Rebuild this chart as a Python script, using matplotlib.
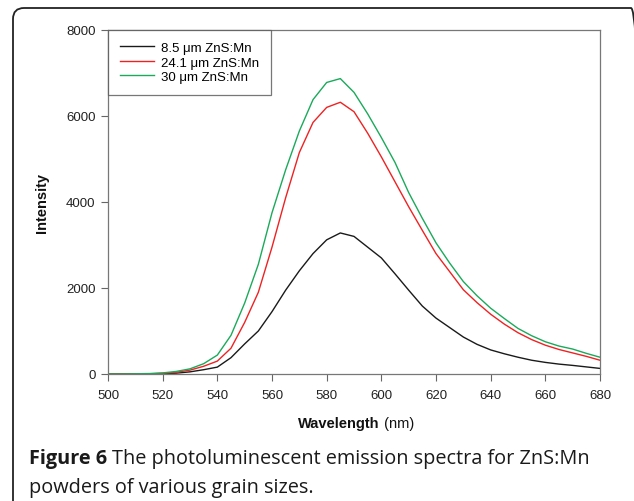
import matplotlib
matplotlib.use("Agg")
import matplotlib.pyplot as plt
from matplotlib.patches import FancyBboxPatch
from matplotlib.transforms import IdentityTransform

wavelength = [500, 505, 510, 515, 520, 525, 530, 535, 540, 545, 550, 555, 560, 565, 570,
              575, 580, 585, 590, 595, 600, 605, 610, 615, 620, 625, 630, 635, 640, 645,
              650, 655, 660, 665, 670, 675, 680]
i_85 = [0, 0, 0, 5, 10, 20, 50, 100, 160, 380, 700, 1000, 1450, 1950, 2400,
        2800, 3120, 3280, 3200, 2950, 2700, 2330, 1950, 1580, 1300, 1080, 860, 690, 560, 470,
        390, 320, 270, 230, 200, 165, 130]
i_241 = [0, 0, 3, 5, 15, 40, 90, 180, 300, 600, 1200, 1900, 2950, 4100, 5150,
         5850, 6200, 6320, 6100, 5600, 5050, 4470, 3890, 3340, 2800, 2380, 1960, 1660, 1390, 1160,
         960, 800, 670, 570, 490, 410, 320]
i_30 = [0, 0, 5, 10, 25, 60, 120, 240, 440, 900, 1650, 2550, 3750, 4750, 5650,
        6380, 6780, 6870, 6550, 6050, 5500, 4920, 4220, 3620, 3050, 2580, 2150, 1820, 1530, 1290,
        1060, 890, 750, 650, 580, 480, 390]
labels = ["8.5 \u03bcm ZnS:Mn", "24.1 \u03bcm ZnS:Mn", "30 \u03bcm ZnS:Mn"]
colors = ["#1a1a1a", "#ee2222", "#1aaa5a"]
xticks = [500, 520, 540, 560, 580, 600, 620, 640, 660, 680]
yticks = [0, 2000, 4000, 6000, 8000]

plt.rcParams['font.family'] = ['Liberation Sans', 'DejaVu Sans']
W, H = 634, 502
fig = plt.figure(figsize=(W / 100, H / 100), dpi=100)

# outer rounded frame (pixel coordinates, origin bottom-left)
frame = FancyBboxPatch((13, -30), 642 - 13, (H - 9) + 30,
                       boxstyle="round,pad=0,rounding_size=11",
                       transform=IdentityTransform(), fill=False, edgecolor="#222222",
                       linewidth=1.3, clip_on=False)
fig.patches.append(frame)

ax = fig.add_axes([108 / W, (H - 375) / H, (600 - 108) / W, (375 - 31) / H])
for y, lab, c in zip([i_85, i_241, i_30], labels, colors):
    ax.plot(wavelength, y, color=c, linewidth=1.0, label=lab)

ax.set_xlim(500, 680)
ax.set_ylim(0, 8000)
ax.set_xticks(xticks)
ax.set_yticks(yticks)
ax.tick_params(direction='out', length=5, width=0.8, color='#666666', labelsize=9.5,
               labelcolor='#222222')
ax.tick_params(axis='x', pad=6)
ax.tick_params(axis='y', pad=4)
for s in ax.spines.values():
    s.set_color('#777777')
    s.set_linewidth(0.9)

ax.text(-0.135, 0.5, "Intensity", rotation=90, transform=ax.transAxes, fontsize=10.5,
        fontweight='bold', ha='center', va='center', color='#111111')

leg = ax.legend(loc='upper left', bbox_to_anchor=(0.0, 1.0), fontsize=9.5, frameon=True,
                fancybox=False, edgecolor='#555555', borderaxespad=0, handlelength=2.6,
                handletextpad=0.5, labelspacing=0.17, borderpad=0.9)
leg.get_frame().set_linewidth(0.9)

fig.canvas.draw()
r = fig.canvas.get_renderer()

# x-axis label: bold "Wavelength" + regular "(nm)"
xl_y = 1 - 424 / H
t1 = fig.text(0, xl_y, "Wavelength", fontsize=10.5, fontweight='bold', va='center',
              ha='left', color='#111111')
t2 = fig.text(0, xl_y, " (nm)", fontsize=10.5, va='center', ha='left', color='#111111')
w1 = t1.get_window_extent(r).width
w2 = t2.get_window_extent(r).width
x0 = 356 - (w1 + w2) / 2
t1.set_x(x0 / W)
t2.set_x((x0 + w1) / W)

# caption
cap_font = ['Open Sans', 'DejaVu Sans']
c1 = fig.text(29 / W, 1 - 464 / H, "Figure 6 ", fontsize=14.3, fontweight='bold',
              family=cap_font, va='baseline', ha='left', color='#1a1a1a')
cw = c1.get_window_extent(r).width
fig.text((29 + cw) / W, 1 - 464 / H, "The photoluminescent emission spectra for ZnS:Mn",
         fontsize=14.3, family=cap_font, va='baseline', ha='left', color='#1a1a1a')
fig.text(29 / W, 1 - 493 / H, "powders of various grain sizes.", fontsize=14.3,
         family=cap_font, va='baseline', ha='left', color='#1a1a1a')

fig.savefig("out.png", dpi=100)
